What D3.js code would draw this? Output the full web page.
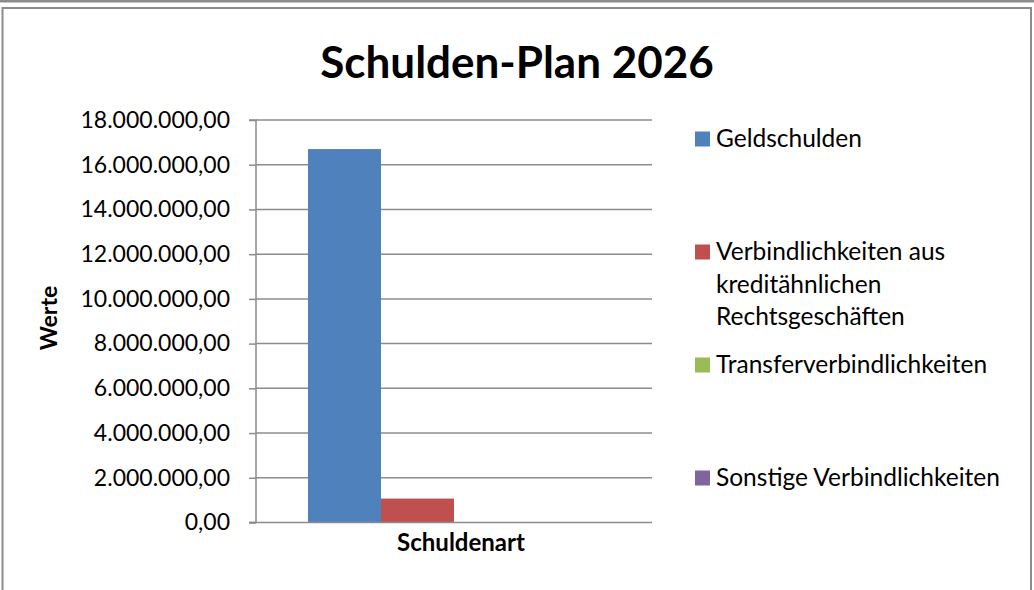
<!DOCTYPE html>
<html>
<head>
<meta charset="utf-8">
<script src="https://cdn.jsdelivr.net/npm/d3@7"></script>
<style>
  body { margin: 0; background: #fff; }
  svg { display: block; font-family: Lato, "Open Sans", sans-serif; }
</style>
</head>
<body>
<svg id="chart" width="1034" height="590"></svg>
<script>
// Data
const categories = ["Schuldenart"];
const seriesNames = ["Geldschulden", "Verbindlichkeiten aus kreditähnlichen Rechtsgeschäften", "Transferverbindlichkeiten", "Sonstige Verbindlichkeiten"];
const seriesValues = [16700000, 1070000, 0, 0];
const seriesColors = ["#4f81bd", "#c0504d", "#9bbb59", "#8064a2"];
const legendLines = [["Geldschulden"], ["Verbindlichkeiten aus", "kreditähnlichen", "Rechtsgeschäften"], ["Transferverbindlichkeiten"], ["Sonstige Verbindlichkeiten"]];
const yTicks = [0, 2000000, 4000000, 6000000, 8000000, 10000000, 12000000, 14000000, 16000000, 18000000];

const svg = d3.select("#chart");
const gridColor = "#8c8c8c";

// Frame
svg.append("rect").attr("x", 0).attr("y", 0).attr("width", 1034).attr("height", 2.5).attr("fill", gridColor);
svg.append("path")
    .attr("d", "M2.5,590 V8 H1031 V590")
    .attr("fill", "none")
    .attr("stroke", gridColor)
    .attr("stroke-width", 2);

// Scales
const plot = {left: 256, right: 652, top: 120, bottom: 522.5};

const x0 = d3.scaleBand()
    .domain(categories)
    .range([plot.left, plot.right])
    .paddingInner(0)
    .paddingOuter(0.178);

const x1 = d3.scaleBand()
    .domain(seriesNames)
    .range([0, x0.bandwidth()]);

const y = d3.scaleLinear()
    .domain([0, 18000000])
    .range([plot.bottom, plot.top]);

const fmt = d3.formatLocale({decimal: ",", thousands: ".", grouping: [3], currency: ["", " €"]}).format(",.2f");

// Gridlines
svg.append("g")
    .selectAll("line")
    .data(yTicks.filter(d => d > 0))
    .join("line")
    .attr("x1", plot.left)
    .attr("x2", plot.right)
    .attr("y1", d => y(d))
    .attr("y2", d => y(d))
    .attr("stroke", gridColor)
    .attr("stroke-width", 1.5);

// Y axis
const yAxis = svg.append("g")
    .attr("transform", `translate(${plot.left},0)`)
    .call(d3.axisLeft(y).tickValues(yTicks).tickFormat(fmt).tickSize(7).tickPadding(19));
yAxis.select(".domain").attr("stroke", gridColor).attr("stroke-width", 1.5).attr("d", `M-7,${plot.top}H0V${plot.bottom}H-7`);
yAxis.selectAll(".tick line").attr("stroke", gridColor).attr("stroke-width", 1.5);
yAxis.selectAll(".tick text").attr("font-size", 23).attr("fill", "#000").attr("font-family", "Lato, sans-serif");

// Bars
svg.append("g")
    .selectAll("g")
    .data(categories)
    .join("g")
    .attr("transform", d => `translate(${x0(d)},0)`)
    .selectAll("rect")
    .data(() => seriesNames.map((s, i) => ({name: s, value: seriesValues[i], color: seriesColors[i]})))
    .join("rect")
    .attr("x", d => x1(d.name))
    .attr("width", x1.bandwidth())
    .attr("y", d => y(d.value))
    .attr("height", d => plot.bottom - y(d.value))
    .attr("fill", d => d.color);

// X axis baseline
svg.append("line")
    .attr("x1", plot.left - 7).attr("x2", plot.right)
    .attr("y1", plot.bottom).attr("y2", plot.bottom)
    .attr("stroke", gridColor).attr("stroke-width", 1.5);

// Titles
svg.append("text")
    .attr("x", 517).attr("y", 78)
    .attr("text-anchor", "middle")
    .attr("font-size", 44).attr("font-weight", "bold")
    .text("Schulden-Plan 2026");

svg.append("text")
    .attr("x", x0(categories[0]) + x0.bandwidth() / 2 + 7).attr("y", 551)
    .attr("text-anchor", "middle")
    .attr("font-size", 24).attr("font-weight", "bold")
    .text("Schuldenart");

svg.append("text")
    .attr("transform", "translate(57,318) rotate(-90)")
    .attr("text-anchor", "middle")
    .attr("font-size", 23).attr("font-weight", "bold")
    .text("Werte");

// Legend
const legendY = [139, 252, 365, 478];
const legend = svg.append("g")
    .selectAll("g")
    .data(seriesNames)
    .join("g")
    .attr("transform", (d, i) => `translate(695,${legendY[i]})`);

legend.append("rect")
    .attr("x", 0).attr("y", -7.5)
    .attr("width", 15).attr("height", 15)
    .attr("fill", (d, i) => seriesColors[i]);

legend.append("text")
    .attr("x", 21)
    .attr("font-size", 24.5)
    .selectAll("tspan")
    .data((d, i) => legendLines[i])
    .join("tspan")
    .attr("x", 21)
    .attr("y", (d, j) => 8 + j * 32.5)
    .text(d => d);
</script>
</body>
</html>
